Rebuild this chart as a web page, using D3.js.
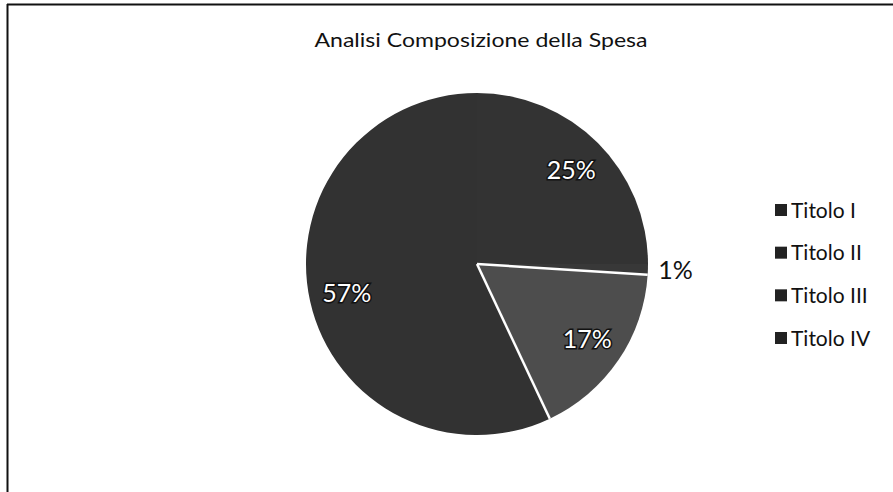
<!DOCTYPE html>
<html>
<head>
<meta charset="utf-8">
<script src="https://cdn.jsdelivr.net/npm/d3@7"></script>
<style>
  html, body { margin: 0; padding: 0; background: #fff; }
  svg { display: block; }
</style>
</head>
<body>
<svg id="chart" width="893" height="492"></svg>
<script>
const title = "Analisi Composizione della Spesa";
const categories = ["Titolo I", "Titolo II", "Titolo III", "Titolo IV"];
const values = [25, 1, 17, 57];
const labels = ["25%", "1%", "17%", "57%"];
const colors = ["#333333", "#383838", "#4d4d4d", "#323232"];

const svg = d3.select("#chart");
const W = 893, H = 492;
const font = "Lato, 'Open Sans', sans-serif";

// frame (scanned chart border: top and left edges visible)
svg.append("line").attr("x1", 7).attr("y1", 4.5).attr("x2", W).attr("y2", 4.5)
  .attr("stroke", "#111").attr("stroke-width", 2);
svg.append("line").attr("x1", 7.5).attr("y1", 4).attr("x2", 7.5).attr("y2", H)
  .attr("stroke", "#111").attr("stroke-width", 2);

// title
svg.append("text")
  .attr("x", 481).attr("y", 47)
  .attr("text-anchor", "middle")
  .attr("font-family", font).attr("font-size", 20)
  .attr("fill", "#111")
  .attr("textLength", 333).attr("lengthAdjust", "spacingAndGlyphs")
  .text(title);

// pie
const cx = 477, cy = 264, r = 171;
const data = categories.map((c, i) => ({ name: c, value: values[i], label: labels[i], color: colors[i] }));
const pie = d3.pie().value(d => d.value).sort(null);
const arcs = pie(data);
const arc = d3.arc().innerRadius(0).outerRadius(r);
const g = svg.append("g").attr("transform", `translate(${cx},${cy})`);

g.selectAll("path.slice").data(arcs).enter().append("path")
  .attr("class", "slice")
  .attr("d", arc)
  .attr("fill", d => d.data.color)
  .attr("stroke", "none");

// white separator edges around Titolo III slice
const t3 = arcs[2];
[t3.startAngle, t3.endAngle].forEach(a => {
  g.append("line")
    .attr("x1", 0).attr("y1", 0)
    .attr("x2", r * Math.sin(a)).attr("y2", -r * Math.cos(a))
    .attr("stroke", "#fff").attr("stroke-width", 2.5);
});

// labels
const labelArc = d3.arc().innerRadius(r * 0.78).outerRadius(r * 0.78);
arcs.forEach(d => {
  if (d.data.value < 5) {
    const mid = (d.startAngle + d.endAngle) / 2;
    const rr = r * 1.06;
    g.append("text")
      .attr("x", rr * Math.sin(mid)).attr("y", -rr * Math.cos(mid) + 9)
      .attr("text-anchor", "start")
      .attr("font-family", font).attr("font-size", 25)
      .attr("fill", "#111")
      .text(d.data.label);
  } else {
    const [x, y] = labelArc.centroid(d);
    g.append("text")
      .attr("x", x).attr("y", y + 9)
      .attr("text-anchor", "middle")
      .attr("font-family", font).attr("font-size", 25)
      .attr("fill", "#fff")
      .attr("stroke", "#111").attr("stroke-width", 3)
      .attr("paint-order", "stroke")
      .text(d.data.label);
  }
});

// legend
const legY = d3.scalePoint().domain(categories).range([210, 338]);
const leg = svg.append("g");
categories.forEach((c, i) => {
  const y = legY(c);
  leg.append("rect").attr("x", 775).attr("y", y - 6).attr("width", 12).attr("height", 12)
    .attr("fill", "#222");
  leg.append("text")
    .attr("x", 791).attr("y", y + 7.5)
    .attr("font-family", font).attr("font-size", 21)
    .attr("fill", "#111")
    .text(c);
});
</script>
</body>
</html>
